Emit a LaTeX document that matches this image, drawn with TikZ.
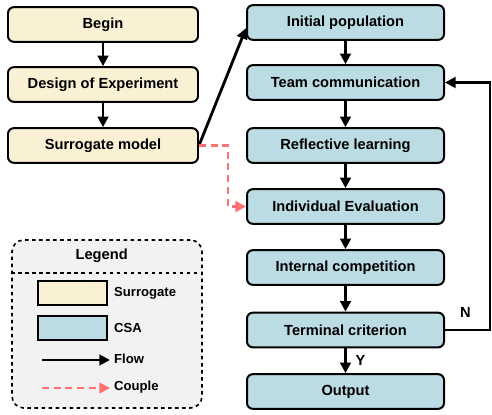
\documentclass[tikz,border=0pt]{standalone}
\usepackage{fontspec}
\setmainfont{Liberation Sans}
\usepackage{xcolor}
\usetikzlibrary{arrows.meta,positioning,calc}
\definecolor{surrfill}{RGB}{250,241,212}
\definecolor{csafill}{RGB}{188,220,228}
\definecolor{couplered}{RGB}{255,112,112}
\definecolor{legfill}{RGB}{242,242,242}
\newcommand{\mainfont}{\fontsize{12.5}{15}\selectfont\bfseries}
\tikzset{box/.style={draw,line width=1.7pt,rounded corners=5pt,align=center,minimum height=1.04cm,inner sep=2pt,font=\mainfont},
  surr/.style={box,fill=surrfill,minimum width=5.7cm},
  csa/.style={box,fill=csafill,minimum width=5.91cm},
  arr/.style={-{Triangle[length=3.2mm,width=3.2mm]},line width=2.4pt},
  couple/.style={-{Triangle[length=3.2mm,width=3.2mm]},line width=2.4pt,couplered,dash pattern=on 6pt off 4pt},
  legtxt/.style={anchor=west,font=\fontsize{11.2}{13}\selectfont\bfseries}}

\begin{document}
\begin{tikzpicture}[font=\mainfont]
\useasboundingbox (0,0) rectangle (14.76,-12.45);
% surrogate side
\node[surr] (begin) at (3.09,-0.735){Begin}; \node[surr] (doe) at (3.09,-2.535){Design of Experiment}; \node[surr] (sm) at (3.09,-4.365){Surrogate model};
% CSA loop
\node[csa] (init) at (10.365,-0.675){Initial population}; \node[csa] (team) at (10.365,-2.475){Team communication}; \node[csa] (refl) at (10.365,-4.365){Reflective learning};
\node[csa] (eval) at (10.365,-6.195){Individual Evaluation}; \node[csa] (comp) at (10.365,-8.025){Internal competition};
\node[csa] (term) at (10.365,-9.9){Terminal criterion}; \node[csa] (out) at (10.365,-11.745){Output};
\coordinate (loop) at (14.7,-9.9);
\coordinate (bend) at (6.84,-4.365);
\draw[arr] (begin)--(doe); \draw[arr] (doe)--(sm); \draw[arr] (sm.east)--($(init.west)+(0,-0.17)$);
\draw[arr] (init)--(team); \draw[arr] (team)--(refl); \draw[arr] (refl)--(eval); \draw[arr] (eval)--(comp); \draw[arr] (comp)--(term);
\draw[arr] (term)--node[right=4pt,font=\mainfont]{Y}(out);
\draw[arr] (term.east)--(loop)node[above left=6pt and 12pt,font=\mainfont]{N}|-(team.east);
\draw[couple] (sm.east)--(bend)|-(eval.west);
% legend
\node[draw,dashed,line width=1.4pt,rounded corners=10pt,fill=legfill,minimum width=5.7cm,minimum height=5.04cm] (leg) at (3.21,-9.72){};
\node[font=\mainfont] (legtitle) at (3.05,-7.68){Legend};
\draw[dashed,line width=1.4pt] (leg.west|-0,-8.19)--(leg.east|-0,-8.19);
\node[draw,line width=1.3pt,fill=surrfill,minimum width=2.07cm,minimum height=0.72cm] (ks) at (2.175,-8.79){};
\node[legtxt] (ls) at (3.3,-8.79){Surrogate};
\node[draw,line width=1.3pt,fill=csafill,minimum width=2.07cm,minimum height=0.72cm] (kc) at (2.175,-9.84){};
\node[legtxt] (lc) at (3.3,-9.84){CSA};
\coordinate (kf) at (1.26,-10.8); \coordinate (kq) at (1.26,-11.64);
\node[legtxt] (lf) at (3.3,-10.76){Flow};
\node[legtxt] (lq) at (3.3,-11.6){Couple};
\draw[arr,line width=1.8pt] (kf)--(kf-|lf.west);
\draw[couple,line width=1.8pt] (kq)--(kq-|lq.west);
\end{tikzpicture}
\end{document}
